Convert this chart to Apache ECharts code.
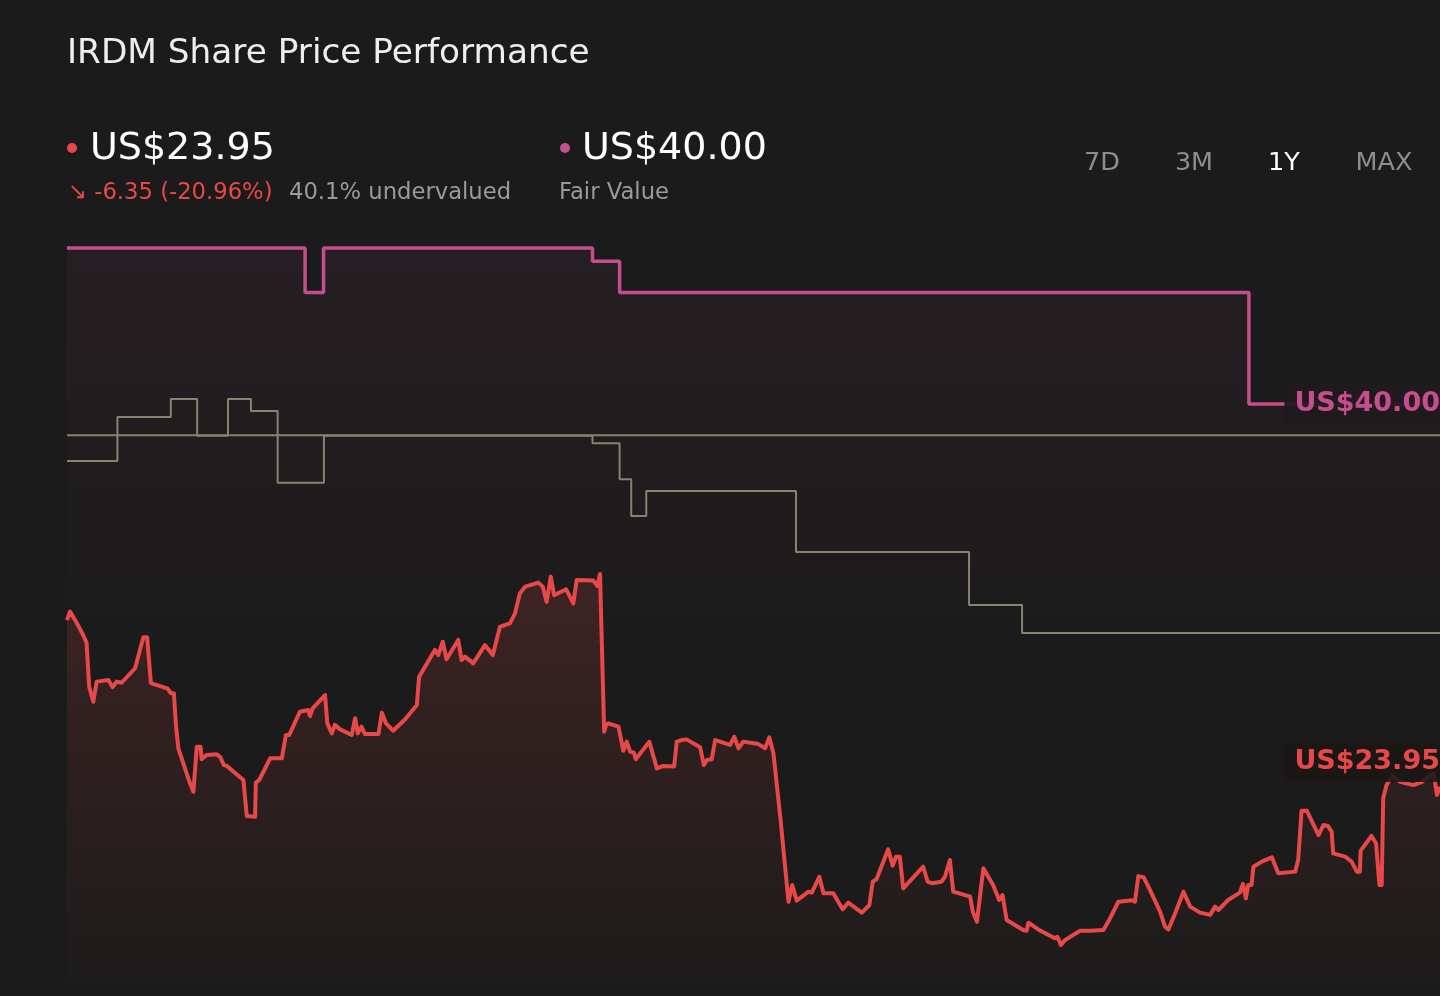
<!DOCTYPE html>
<html><head><meta charset="utf-8">
<script src="https://cdn.jsdelivr.net/npm/echarts@6/dist/echarts.min.js"></script>
<style>html,body{margin:0;padding:0;background:#1b1b1b;}#chart{width:1440px;height:996px;}</style>
</head><body><div id="chart"></div>
<script>
const ticker = 'IRDM';
const currentPrice = 23.95;
const priceChange = -6.35;
const priceChangePct = -20.96;
const fairValue = 40.00;
const undervaluedPct = 40.1;
const rangeTabs = ['7D', '3M', '1Y', 'MAX'];
const activeTab = '1Y';

// price path (day index within the 1Y window, price in US$)
const priceDays = [0,0.8,2.6,4.3,5.2,5.9,7.0,7.9,11.0,12.1,13.2,14.5,18.1,20.3,21.3,22.3,25.6,26.7,27.6,28.4,29.0,29.6,32.7,33.6,34.5,35.5,35.8,37.1,39.8,40.7,41.7,42.5,46.9,47.8,50.0,50.2,51.1,54.0,57.1,58.2,59.1,61.9,64.1,64.6,65.3,68.6,69.2,70.4,71.2,72.6,75.7,76.6,77.3,78.3,79.2,82.8,83.7,84.8,86.7,89.9,93.0,93.6,97.8,98.7,99.9,100.9,104.0,104.9,105.8,108.0,111.1,113.2,115.1,117.8,119.1,120.4,121.8,125.3,126.5,127.5,128.6,129.5,132.7,134.6,135.5,139.9,141.0,141.7,142.8,143.3,143.9,146.6,147.9,148.8,149.7,150.7,151.2,154.8,156.8,158.5,161.4,162.1,163.4,164.7,168.3,169.3,170.1,171.4,172.3,176.3,177.4,178.5,179.8,183.8,185.6,186.7,187.8,189.7,191.8,192.8,194.0,197.1,198.0,200.0,201.1,203.7,206.2,207.7,211.3,213.3,214.2,215.2,218.3,219.5,220.4,221.4,222.3,227.6,228.8,229.9,232.5,233.4,234.7,235.6,240.1,240.8,241.9,243.6,246.2,247.8,248.7,249.8,254.2,255.1,255.6,258.2,262.6,263.3,264.2,265.3,269.3,272.0,275.5,276.8,279.5,283.1,283.9,284.8,286.2,287.9,290.6,291.9,292.8,294.6,296.8,298.6,301.2,303.9,305.2,306.1,308.7,311.8,312.6,313.4,314.0,314.9,315.4,317.6,320.3,322.0,326.5,327.3,328.2,329.6,332.7,334.0,335.2,336.2,336.6,339.8,341.5,342.9,343.7,343.9,346.8,348.0,348.9,349.5,349.9,350.8,352.2,354.4,357.9,360.2,363.3,364.2,365];
const priceValues = [30.31,30.69,30.18,29.64,29.30,27.32,26.65,27.55,27.62,27.30,27.55,27.50,28.15,29.54,29.54,27.48,27.30,27.25,27.03,27.03,25.53,24.56,22.99,22.61,24.63,24.63,24.07,24.26,24.29,24.18,23.81,23.77,23.14,21.52,21.49,23.02,23.14,24.11,24.11,25.16,25.16,26.20,26.28,26.01,26.35,26.95,25.68,25.23,25.61,25.41,25.16,25.91,25.23,25.53,25.20,25.20,26.16,25.68,25.35,25.86,26.50,27.77,28.97,28.74,29.34,28.55,29.42,28.52,28.67,28.37,29.19,28.74,30.01,30.17,30.61,31.51,31.81,31.99,31.81,31.13,32.26,31.43,31.69,31.06,32.11,32.08,31.84,32.38,25.30,25.61,25.68,25.53,24.45,24.86,24.41,24.36,24.07,24.86,23.66,23.77,23.74,24.86,24.93,24.96,24.61,23.81,24.04,24.07,24.93,24.71,25.08,24.56,24.86,24.75,24.56,25.05,24.34,21.35,17.68,18.43,17.73,18.13,18.09,18.80,18.06,18.06,17.34,17.64,17.19,17.53,18.58,18.69,20.03,19.30,19.70,19.70,18.28,19.25,18.58,18.51,18.58,18.80,19.55,18.13,17.91,17.23,16.78,19.18,18.43,17.76,17.98,16.86,16.41,16.38,16.74,16.44,16.04,16.11,15.74,15.96,16.38,16.38,16.41,16.78,17.68,17.75,17.68,18.83,18.78,18.21,17.23,16.56,16.44,17.16,18.13,17.46,17.19,17.09,17.46,17.31,17.76,18.09,18.48,17.83,18.43,18.43,19.25,19.48,19.67,18.96,19.03,19.55,21.76,21.76,20.67,21.12,21.08,20.82,19.85,19.70,19.48,19.03,19.03,19.97,20.63,20.30,18.43,18.43,22.32,22.91,23.32,23.06,22.91,23.06,23.44,22.47,22.84];

// fair value history (step line)
const fairValueDays = [0, 63.3, 68.2, 139.7, 146.9, 314.2, 365];
const fairValueValues = [47.0, 45.0, 47.0, 46.4, 45.0, 40.0, 40.0];

// grey reference lines
const levelDays = [0, 365];
const levelValues = [38.6, 38.6];
const stepDays = [0, 13.4, 27.6, 34.6, 42.8, 48.9, 56.0, 68.3, 139.7, 146.9, 150.0, 154.0, 193.8, 239.8, 253.9, 365];
const stepValues = [37.44, 39.42, 40.22, 38.58, 40.22, 39.69, 36.47, 38.58, 38.24, 36.62, 34.98, 36.10, 33.36, 30.99, 29.73, 29.73];

const labelDay = 323.5;

const FONT = "'DejaVu Sans', sans-serif";
const RED = '#e84848';
const PINK = '#c64e8e';
const GRAY = '#87836f';
const BG = '#1b1b1b';

function zip(a, b) { const n = Math.min(a.length, b.length); const out = []; for (let i = 0; i < n; i++) out.push([a[i], b[i]]); return out; }

const chart = echarts.init(document.getElementById('chart'), null, { renderer: 'canvas' });

const tabX = [1102, 1194, 1284, 1384];
const graphics = [
  { type: 'text', x: 67, y: 54, style: { text: ticker + ' Share Price Performance', fontSize: 34.3, fontFamily: FONT, fill: '#eeeeee', align: 'left', verticalAlign: 'middle' } },
  { type: 'circle', shape: { cx: 72, cy: 148, r: 5 }, style: { fill: RED } },
  { type: 'text', x: 90, y: 149, style: { text: 'US$' + currentPrice.toFixed(2), fontSize: 38, fontFamily: FONT, fill: '#ffffff', align: 'left', verticalAlign: 'middle' } },
  { type: 'text', x: 68, y: 193, style: { text: '\u2198 ' + priceChange.toFixed(2) + ' (' + priceChangePct.toFixed(2) + '%)', fontSize: 22.7, fontFamily: FONT, fill: RED, align: 'left', verticalAlign: 'middle' } },
  { type: 'text', x: 289, y: 193, style: { text: undervaluedPct.toFixed(1) + '% undervalued', fontSize: 22.7, fontFamily: FONT, fill: '#9a9a9a', align: 'left', verticalAlign: 'middle' } },
  { type: 'circle', shape: { cx: 565, cy: 148, r: 5 }, style: { fill: PINK } },
  { type: 'text', x: 582, y: 149, style: { text: 'US$' + fairValue.toFixed(2), fontSize: 38, fontFamily: FONT, fill: '#ffffff', align: 'left', verticalAlign: 'middle' } },
  { type: 'text', x: 559, y: 193, style: { text: 'Fair Value', fontSize: 22.7, fontFamily: FONT, fill: '#9a9a9a', align: 'left', verticalAlign: 'middle' } }
];
rangeTabs.forEach((t, i) => {
  graphics.push({ type: 'text', x: tabX[i], y: 163, style: { text: t, fontSize: 25.5, fontFamily: FONT, fill: t === activeTab ? '#ffffff' : '#8d8d8d', align: 'center', verticalAlign: 'middle' } });
});

function endLabel(value, color, bg) {
  return {
    symbol: 'circle', symbolSize: 1, silent: true,
    itemStyle: { color: 'rgba(0,0,0,0)' },
    data: [{ coord: [labelDay, value] }],
    label: {
      show: true, position: 'right', distance: 0,
      formatter: 'US$' + value.toFixed(2),
      color: color, fontSize: 27, fontWeight: 'bold', fontFamily: FONT,
      backgroundColor: bg, padding: [7, 12, 6, 10], borderRadius: 4
    }
  };
}

const option = {
  backgroundColor: BG,
  animation: false,
  grid: { left: 67, right: 0, top: 225.6, bottom: 12.2 },
  xAxis: { type: 'value', min: 0, max: 365, show: false },
  yAxis: { type: 'value', min: 14, max: 48, show: false },
  graphic: graphics,
  series: [
    {
      type: 'line', name: 'Fair Value', data: zip(fairValueDays, fairValueValues), step: 'end',
      symbol: 'none', z: 1,
      lineStyle: { color: PINK, width: 3.5 },
      areaStyle: { color: new echarts.graphic.LinearGradient(0, 0, 0, 1, [
        { offset: 0, color: 'rgba(198,78,142,0.09)' },
        { offset: 0.3, color: 'rgba(198,78,142,0.04)' },
        { offset: 0.6, color: 'rgba(198,78,142,0)' }
      ]) },
      markPoint: endLabel(fairValue, PINK, 'rgba(34,26,30,0.95)')
    },
    {
      type: 'line', name: 'Level', data: zip(levelDays, levelValues), symbol: 'none', z: 2,
      lineStyle: { color: GRAY, width: 2 }
    },
    {
      type: 'line', name: 'Step', data: zip(stepDays, stepValues), step: 'end', symbol: 'none', z: 2,
      lineStyle: { color: GRAY, width: 2 }
    },
    {
      type: 'line', name: 'Price', data: zip(priceDays, priceValues), symbol: 'none', z: 3,
      lineStyle: { color: RED, width: 4, join: 'round' },
      areaStyle: { color: new echarts.graphic.LinearGradient(0, 0, 0, 1, [
        { offset: 0, color: 'rgba(232,72,72,0.24)' },
        { offset: 1, color: 'rgba(232,72,72,0.01)' }
      ]) },
      markPoint: endLabel(currentPrice, RED, 'rgba(28,23,23,0.88)')
    }
  ]
};
chart.setOption(option);
</script>
</body></html>
